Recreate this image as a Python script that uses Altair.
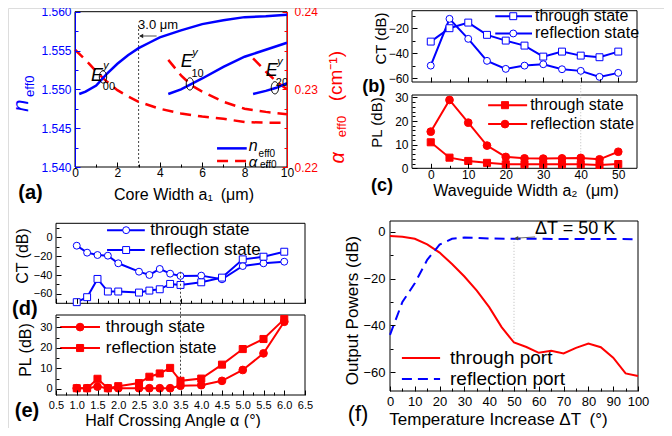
import altair as alt
import pandas as pd

# ---------------- data ----------------
# (a) n_eff0 (left axis) and alpha_eff0 (right axis) versus core width a1 (um)
a_n00_x = [0.2, 0.5, 1, 1.5, 2, 2.5, 3, 3.5, 4, 5, 6, 7, 8, 9, 10]
a_n00_y = [1.5494, 1.5497, 1.5505, 1.5520, 1.5533, 1.5544, 1.5553, 1.5560, 1.5567,
           1.5576, 1.5584, 1.5589, 1.5593, 1.5594, 1.5596]
a_n10_x = [4.4, 5, 5.5, 6, 7, 8, 9, 10]
a_n10_y = [1.5494, 1.5500, 1.5507, 1.5514, 1.5529, 1.5542, 1.5551, 1.5560]
a_n20_x = [8.4, 9, 9.5, 10]
a_n20_y = [1.5494, 1.5498, 1.5502, 1.5508]
a_al00_x = [0, 0.5, 1, 1.5, 2, 2.5, 3, 4, 5, 6, 7, 8, 9, 10]
a_al00_y = [0.2351, 0.2338, 0.2323, 0.2310, 0.2299, 0.2291, 0.2284, 0.2275, 0.2269,
            0.2265, 0.2262, 0.2258, 0.2257, 0.2257]
a_al10_x = [4.4, 5, 5.5, 6, 7, 8, 9, 10]
a_al10_y = [0.2338, 0.2318, 0.2305, 0.2297, 0.2284, 0.2275, 0.2271, 0.2268]
a_al20_x = [8.4, 9, 9.5, 10]
a_al20_y = [0.2340, 0.2323, 0.2310, 0.2300]
a_mode_x = [1.32, 5.42, 9.43]          # ellipse marks on the mode curves
a_mode_y = [1.5516, 1.5507, 1.5502]

# (b) CT and (c) PL versus waveguide width a2 (um)
bc_x = [0, 5, 10, 15, 20, 25, 30, 35, 40, 45, 50]
b_through = [-30.7, -20.0, -15.5, -25.3, -29.9, -33.9, -42.7, -38.7, -41.9, -43.2, -38.7]
b_reflect = [-49.9, -12.5, -28.5, -46.1, -52.5, -49.9, -48.8, -52.8, -54.1, -58.9, -55.7]
c_through = [11.0, 4.5, 3.1, 2.3, 1.7, 1.7, 1.7, 1.7, 1.7, 1.4, 1.8]
c_reflect = [15.5, 28.9, 19.3, 9.6, 4.8, 4.2, 4.1, 4.2, 4.4, 3.8, 7.0]

# (d) CT and (e) PL versus half crossing angle alpha (deg)
de_x = [1.0, 1.25, 1.5, 1.75, 2.0, 2.5, 2.75, 3.0, 3.25, 3.5, 4.0, 4.5, 5.0, 5.5, 6.0]
d_through = [-8.8, -16.2, -18.7, -19.4, -27.5, -36.4, -39.9, -33.5, -38.5, -40.9,
             -40.6, -44.5, -30.4, -27.5, -25.8]
d_reflect = [-68.8, -63.5, -44.1, -57.5, -57.5, -58.6, -56.5, -55.1, -49.4, -50.5,
             -47.7, -42.7, -23.3, -20.5, -15.2]
e_through = [0.3, 0.3, 1.1, 0.3, 0.3, 0.3, 0.3, 0.3, 0.3, 1.5, 1.8, 3.9, 9.2, 17.3, 32.7]
e_reflect = [0.3, 0.3, 4.9, 0.3, 1.3, 2.8, 5.9, 7.5, 10.2, 3.9, 5.0, 11.8, 19.4, 24.3, 34.0]

# (f) output powers versus temperature increase
f_x = [0, 5, 10, 15, 20, 25, 30, 35, 40, 45, 50, 55, 60, 65, 70, 75, 80, 85, 90, 95, 100]
f_through = [-1.8, -2.1, -3.0, -5.4, -8.9, -13.8, -19.1, -25.1, -32.2, -40.7, -47.3,
             -49.2, -51.7, -50.8, -52.0, -49.6, -47.7, -49.3, -53.8, -60.5, -61.6]
f_refl_x = [0, 5, 10, 15, 20, 25, 30, 35, 40, 50, 60, 70, 80, 90, 100]
f_reflect = [-44.0, -30.0, -22.0, -12.0, -5.5, -3.0, -2.5, -2.6, -2.9, -3.0, -3.0,
             -3.1, -3.1, -3.1, -3.2]

# ---------------- layout ----------------
W, H = 656, 420
BLUE, RED = "#0000ff", "#ff0000"
FONT = "Liberation Sans"

# panel: x domain, x pixel range, y domain, y pixel range (chart coordinates)
GEO = {
    "a": ([0, 10], [67, 279], [1.540, 1.560], [159, 3.7]),
    "ar": ([0, 10], [67, 279], [0.22, 0.24], [159, 3.7]),
    "b": ([-5, 55], [404, 629], [-63, -6], [74, 2.7]),
    "c": ([-5, 55], [404, 629], [0, 31], [160.3, 87]),
    "d": ([0.5, 6.5], [48, 297], [-70, 15], [295.3, 215.3]),
    "e": ([0.5, 6.5], [48, 297], [-3, 36], [387, 307]),
    "f": ([0, 100], [382, 630], [-68, 4.6], [383, 213]),
}


def X(p, field="x", axis=None):
    xd, xr, _, _ = GEO[p]
    return alt.X(f"{field}:Q", scale=alt.Scale(domain=xd, range=xr, nice=False, zero=False), axis=axis)


def Y(p, field="y", axis=None):
    _, _, yd, yr = GEO[p]
    return alt.Y(f"{field}:Q", scale=alt.Scale(domain=yd, range=yr, nice=False, zero=False), axis=axis)


def off(p, edge, orient):
    xd, xr, yd, yr = GEO[p]
    if edge == "bottom":
        return yr[0] - H if orient == "bottom" else -yr[0]
    if edge == "left":
        return -xr[0] if orient == "left" else xr[0] - W
    return xr[1] - W if orient == "right" else -xr[1]


INWARD = {"bottom": "top", "left": "right", "right": "left"}


def lab_axis(p, edge, values, fmt=None, title=None, color="black", lsize=12, lpad=2,
             domain=False, tsize=15, **kw):
    """axis that carries the tick labels and title (ticks are drawn inward separately)"""
    d = dict(orient=edge, offset=off(p, edge, edge), values=values, grid=False, domain=domain,
             domainColor=color, domainWidth=1, ticks=False, tickSize=0,
             labels=True, labelColor=color, labelFontSize=lsize, labelFont=FONT,
             labelPadding=lpad, labelFlush=False, labelOverlap=False, title=title, zindex=1,
             titleFont=FONT, titleFontSize=tsize, titleFontWeight="normal", titleColor="black")
    if fmt:
        d["format"] = fmt
    d.update(kw)
    return alt.Axis(**d)


def tick_axis(p, edge, values, size=5, color="black"):
    """inward pointing ticks on one frame edge"""
    o = INWARD[edge]
    return alt.Axis(orient=o, offset=off(p, edge, o), values=values, grid=False, domain=False,
                    ticks=True, tickSize=size, tickWidth=1, tickColor=color, labels=False,
                    title=None, zindex=1)


def frame(p, xaxis, yaxis):
    xd, _, yd, _ = GEO[p]
    df = pd.DataFrame({"x": [xd[0]], "x1": [xd[1]], "y": [yd[0]], "y1": [yd[1]]})
    return alt.Chart(df).mark_rect(fillOpacity=0, stroke="black", strokeWidth=1).encode(
        x=X(p, axis=xaxis), x2="x1:Q", y=Y(p, axis=yaxis), y2="y1:Q")


def guide(p, xaxis=None, yaxis=None):
    xd, _, yd, _ = GEO[p]
    df = pd.DataFrame({"x": [xd[0]], "y": [yd[0]]})
    return alt.Chart(df).mark_point(opacity=0).encode(x=X(p, axis=xaxis), y=Y(p, axis=yaxis))


def ticks(p, xmaj, xmin, ymaj, ymin, ycolor="black"):
    return [guide(p, tick_axis(p, "bottom", xmaj, 5), tick_axis(p, "left", ymaj, 5, ycolor)),
            guide(p, tick_axis(p, "bottom", xmin, 3), tick_axis(p, "left", ymin, 3, ycolor))]


def line(p, xs, ys, color, width=2.0, dash=None):
    df = pd.DataFrame({"x": xs, "y": ys})
    kw = dict(color=color, strokeWidth=width)
    if dash:
        kw["strokeDash"] = dash
    return alt.Chart(df).mark_line(**kw).encode(x=X(p), y=Y(p))


def pts(p, xs, ys, shape, color, hollow=True, size=48):
    df = pd.DataFrame({"x": xs, "y": ys})
    fill = "white" if hollow else color
    return alt.Chart(df).mark_point(shape=shape, size=size, filled=True, fill=fill,
                                    stroke=color, strokeWidth=1, opacity=1).encode(x=X(p), y=Y(p))


def txt(p, x, y, s, size, color="black", style="normal", weight="normal", align="left",
        baseline="middle", angle=0):
    df = pd.DataFrame({"x": [x], "y": [y], "t": [s]})
    return alt.Chart(df).mark_text(font=FONT, fontSize=size, color=color, fontStyle=style,
                                   fontWeight=weight, align=align, baseline=baseline,
                                   angle=angle).encode(x=X(p), y=Y(p), text="t:N")


def vrule(p, x, y0, y1, color, dash, width=1):
    df = pd.DataFrame({"x": [x], "y": [y0], "y1": [y1]})
    return alt.Chart(df).mark_rule(color=color, strokeDash=dash, strokeWidth=width).encode(
        x=X(p), y=Y(p), y2="y1:Q")


def leg(p, y, x0, x1, xm, xt, label, color, shape=None, hollow=True, dash=None, size=48, fs=16):
    out = [line(p, [x0, x1], [y, y], color, 2, dash)]
    if shape:
        out.append(pts(p, [xm], [y], shape, color, hollow, size))
    out.append(txt(p, xt, y, label, fs))
    return out


ELLIPSE = "M0,-1 A0.6,1 0 1,1 0,1 A0.6,1 0 1,1 0,-1 Z"
L = []

# ---------------- panel (a) ----------------
L.append(frame("a",
               lab_axis("a", "bottom", [0, 2, 4, 6, 8, 10], lpad=0.5, tsize=16,
                        title="Core Width a\u2081\u2002(\u03bcm)", titleBaseline="alphabetic",
                        titleY=32, titleX=175.5),
               lab_axis("a", "left", [1.540, 1.545, 1.550, 1.555, 1.560], fmt=".3f", color=BLUE,
                        lpad=4, domain=True)))
L += ticks("a", [0, 2, 4, 6, 8, 10], [1, 3, 5, 7, 9],
           [1.540, 1.545, 1.550, 1.555, 1.560], [1.5425, 1.5475, 1.5525, 1.5575], BLUE)
L.append(guide("ar", None,
               lab_axis("ar", "right", [0.22, 0.23, 0.24], fmt=".2f", color=RED, lpad=7, domain=True)))
L.append(guide("ar", None, tick_axis("ar", "right", [0.22, 0.23, 0.24], 5, RED)))
L.append(guide("ar", None, tick_axis("ar", "right", [0.2225, 0.225, 0.2275, 0.2325, 0.235, 0.2375],
                                     3, RED)))
L.append(vrule("a", 3, 1.540, 1.5583, "#444444", [2, 2]))
L.append(line("ar", a_al00_x, a_al00_y, RED, 2.5, [11, 7]))
L.append(line("ar", a_al10_x, a_al10_y, RED, 2.5, [11, 7]))
L.append(line("ar", a_al20_x, a_al20_y, RED, 2.5, [11, 7]))
L.append(line("a", a_n00_x, a_n00_y, BLUE, 2.5))
L.append(line("a", a_n10_x, a_n10_y, BLUE, 2.5))
L.append(line("a", a_n20_x, a_n20_y, BLUE, 2.5))
L.append(alt.Chart(pd.DataFrame({"x": a_mode_x, "y": a_mode_y})).mark_point(
    shape=ELLIPSE, size=150, filled=False, stroke="black", strokeWidth=1, opacity=1
).encode(x=X("a"), y=Y("a")))
# arrow marking 3.0 um
L.append(line("a", [3.07, 3.85], [1.55687, 1.55687], "#222222", 0.8))
L.append(alt.Chart(pd.DataFrame({"x": [3.12], "y": [1.55687]})).mark_point(
    shape="triangle-left", size=22, filled=True, color="#222222", opacity=1).encode(x=X("a"), y=Y("a")))
L.append(txt("a", 3.92, 1.55825, "3.0 \u03bcm", 13, align="center"))
# mode labels
for ex, ey, sx, sy, bx, by, sub in [(1.04, 1.55172, 1.46, 1.55301, 1.60, 1.55024, "00"),
                                    (5.27, 1.55346, 5.66, 1.55468, 5.78, 1.55198, "10"),
                                    (9.28, 1.55239, 9.67, 1.55346, 9.76, 1.55082, "20")]:
    L.append(txt("a", ex, ey, "E", 18, style="italic", align="center"))
    L.append(txt("a", sx, sy, "y", 11, style="italic", align="center"))
    L.append(txt("a", bx, by, sub, 11, align="center"))
# legend (a)
L.append(line("a", [6.7, 8.1], [1.5424, 1.5424], BLUE, 2.5))
L.append(line("a", [6.7, 8.1], [1.54077, 1.54077], RED, 2.5, [11, 7]))
L.append(txt("a", 8.2, 1.54270, "n", 16, style="italic"))
L.append(txt("a", 8.66, 1.54170, "eff0", 10))
L.append(txt("a", 8.2, 1.54070, "\u03b1", 15, style="italic"))
L.append(txt("a", 8.73, 1.54020, "eff0", 10))
# axis titles of (a)
L.append(txt("a", -2.55, 1.5479, "n", 22, color=BLUE, style="italic", align="center", angle=270))
L.append(txt("a", -2.12, 1.5504, "eff0", 13, color=BLUE, align="center", angle=270))
L.append(txt("a", 12.41, 1.5412, "\u03b1", 20, color=RED, style="italic", align="center", angle=270))
L.append(txt("a", 12.60, 1.5452, "eff0", 13, color=RED, align="center", angle=270))
L.append(txt("a", 12.31, 1.5517, "(cm\u207b\u00b9)", 19, color=RED, align="center", angle=270))
L.append(txt("a", -2.1, 1.53667, "(a)", 20, weight="bold", align="center"))

# ---------------- panel (b) ----------------
L.append(frame("b",
               lab_axis("b", "bottom", [0, 10, 20, 30, 40, 50], labels=False),
               lab_axis("b", "left", [-60, -40, -20], lpad=3.5, title="CT (dB)",
                        titleBaseline="middle", titleX=-32, titleY=30)))
L += ticks("b", [0, 10, 20, 30, 40, 50], [5, 15, 25, 35, 45], [-60, -40, -20], [-50, -30, -10])
L.append(line("b", bc_x, b_through, BLUE, 2))
L.append(line("b", bc_x, b_reflect, BLUE, 2))
L.append(vrule("b", 40, -63, -55.5, "#bbbbbb", [1, 2]))
L.append(pts("b", bc_x, b_through, "square", BLUE))
L.append(pts("b", bc_x, b_reflect, "circle", BLUE))
L += leg("b", -10.4, 17.2, 27.0, 22.0, 27.8, "through state", BLUE, "square")
L += leg("b", -24.2, 17.2, 27.0, 22.0, 27.8, "reflection state", BLUE, "circle")
L.append(txt("b", -15.2, -67.0, "(b)", 18, weight="bold", align="center"))

# ---------------- panel (c) ----------------
L.append(frame("c",
               lab_axis("c", "bottom", [0, 10, 20, 30, 40, 50], lpad=1.5, tsize=16,
                        title="Waveguide Width a\u2082\u2002(\u03bcm)", titleBaseline="alphabetic",
                        titleY=27, titleX=517.5),
               lab_axis("c", "left", [0, 10, 20, 30], lpad=4, title="PL (dB)",
                        titleBaseline="middle", titleX=-36, titleY=114)))
L += ticks("c", [0, 10, 20, 30, 40, 50], [5, 15, 25, 35, 45], [0, 10, 20, 30],
           [2, 4, 6, 8, 12, 14, 16, 18, 22, 24, 26, 28])
L.append(vrule("c", 40, 1.7, 36.5, "#bbbbbb", [1, 2]))
L.append(line("c", bc_x, c_through, RED, 2))
L.append(line("c", bc_x, c_reflect, RED, 2))
L.append(pts("c", bc_x, c_through, "square", RED, hollow=False, size=50))
L.append(pts("c", bc_x, c_reflect, "circle", RED, hollow=False, size=60))
L += leg("c", 26.7, 15.3, 25.7, 19.8, 26.5, "through state", RED, "square", hollow=False, size=50)
L += leg("c", 18.7, 15.3, 25.7, 19.8, 26.5, "reflection state", RED, "circle", hollow=False, size=60)
L.append(txt("c", -13.0, -7.4, "(c)", 18, weight="bold", align="center"))

# ---------------- panel (d) ----------------
de_major = [0.5 * k for k in range(1, 14)]
de_minor = [0.25 + 0.5 * k for k in range(1, 12)]
L.append(frame("d",
               lab_axis("d", "bottom", de_major, labels=False),
               lab_axis("d", "left", [-60, -40, -20, 0], lsize=11, lpad=4, title="CT (dB)", tsize=16,
                        titleBaseline="middle", titleX=-34, titleY=247.5)))
L += ticks("d", de_major, de_minor, [-60, -40, -20, 0], [-50, -30, -10, 10])
L.append(line("d", de_x, d_through, BLUE, 2))
L.append(line("d", de_x, d_reflect, BLUE, 2))
L.append(pts("d", de_x, d_through, "circle", BLUE))
L.append(pts("d", de_x, d_reflect, "square", BLUE))
L += leg("d", 7.7, 1.73, 2.64, 2.19, 2.77, "through state", BLUE, "circle", fs=17)
L += leg("d", -13.4, 1.73, 2.64, 2.19, 2.77, "reflection state", BLUE, "square", fs=17)
L.append(txt("d", -0.25, -76.0, "(d)", 20, weight="bold", align="center"))

# ---------------- panel (e) ----------------
L.append(frame("e",
               lab_axis("e", "bottom", de_major, fmt=".1f", lsize=11, lpad=4, tsize=16,
                        title="Half Crossing Angle \u03b1 (\u00b0)", titleBaseline="alphabetic",
                        titleY=30, titleX=164.5),
               lab_axis("e", "left", [0, 10, 20, 30], lsize=11, lpad=4, title="PL (dB)", tsize=16,
                        titleBaseline="middle", titleX=-31, titleY=341.5)))
L += ticks("e", de_major, de_minor, [0, 10, 20, 30], [5, 15, 25, 35])
L.append(vrule("e", 3.5, 1.5, 57.9, "#444444", [2, 2]))
L.append(line("e", de_x, e_through, RED, 2))
L.append(line("e", de_x, e_reflect, RED, 2))
L.append(pts("e", de_x, e_through, "circle", RED, hollow=False, size=60))
L.append(pts("e", de_x, e_reflect, "square", RED, hollow=False, size=50))
L += leg("e", 30.1, 0.6, 1.56, 1.08, 1.7, "through state", RED, "circle", hollow=False, size=60, fs=17)
L += leg("e", 19.9, 0.6, 1.56, 1.08, 1.7, "reflection state", RED, "square", hollow=False, size=50,
         fs=17)
L.append(txt("e", -0.2, -10.8, "(e)", 20, weight="bold", align="center"))

# ---------------- panel (f) ----------------
L.append(frame("f",
               lab_axis("f", "bottom", list(range(0, 101, 10)), lsize=13, lpad=4.7, tsize=17,
                        title="Temperature Increase \u0394T\u2002(\u00b0)", titleBaseline="alphabetic",
                        titleY=33.5, titleX=490),
               lab_axis("f", "left", [-60, -40, -20, 0], lsize=13, lpad=5, title="Output Powers (dB)",
                        tsize=17, titleBaseline="middle", titleX=-38, titleY=302)))
L += ticks("f", list(range(0, 101, 10)), list(range(5, 100, 10)), [-60, -40, -20, 0], [-50, -30, -10])
L.append(vrule("f", 50, -47, -3, "#bbbbbb", [1, 2]))
L.append(line("f", f_x, f_through, RED, 2))
L.append(line("f", f_refl_x, f_reflect, BLUE, 2, [10, 6]))
L.append(line("f", [58.5, 50.9], [-2.2, -2.75], "#444444", 0.8))
L.append(alt.Chart(pd.DataFrame({"x": [50.9], "y": [-2.75]})).mark_point(
    shape="triangle-left", size=20, filled=True, color="#444444", opacity=1).encode(x=X("f"), y=Y("f")))
L.append(txt("f", 58.5, -0.95, "\u0394T = 50 K", 18, baseline="alphabetic"))
L += leg("f", -53.9, 4.8, 20.2, None, 24.2, "through port", RED, fs=19)
L += leg("f", -62.9, 4.8, 20.2, None, 24.2, "reflection port", BLUE, dash=[10, 6], fs=19)
L.append(txt("f", -12.9, -78.0, "(f)", 22, align="center"))

chart = alt.layer(*L).resolve_scale(x="independent", y="independent").resolve_axis(
    x="independent", y="independent"
).properties(
    width=W, height=H, padding=0, autosize=alt.AutoSizeParams(type="none")
).configure_view(strokeWidth=0).configure(font=FONT)

chart.save("out.html", embed_options={"renderer": "svg", "actions": False})
